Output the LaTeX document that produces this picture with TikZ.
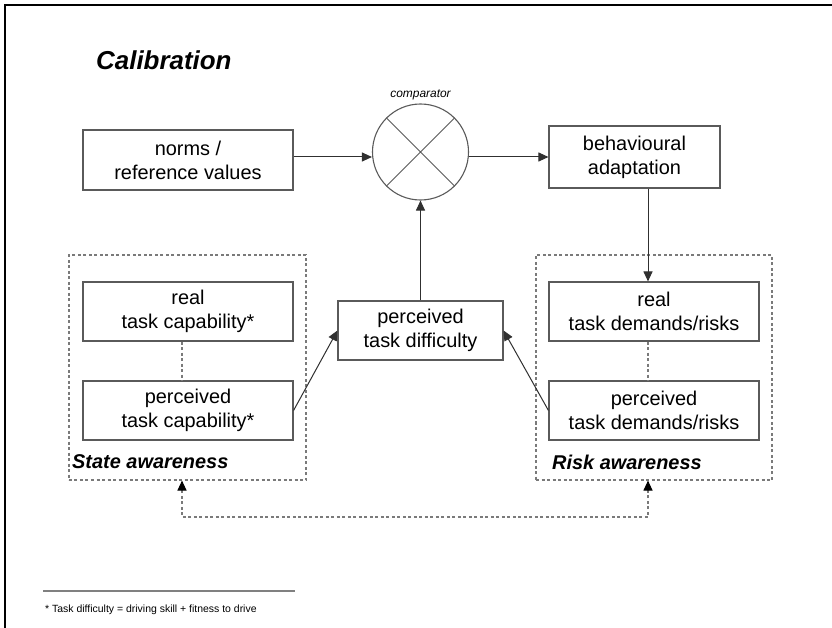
\documentclass[tikz,border=0pt]{standalone}
\usepackage{fontspec}
\setmainfont{Liberation Sans}
\usetikzlibrary{arrows.meta,calc}
\definecolor{boxgray}{HTML}{5A5A5A}
\definecolor{linegray}{HTML}{303030}
\definecolor{dashgray}{HTML}{7A7A7A}
\begin{document}
\begin{tikzpicture}[x=1bp,y=-1bp,
  box/.style={draw=boxgray, line width=1.1bp, fill=white, inner sep=0pt, align=center, font=\fontsize{20}{24}\selectfont},
  arr/.style={draw=linegray, line width=1bp, -{Triangle[length=10bp,width=9bp]}},
  cont/.style={draw=dashgray, line width=1.1bp, dash pattern=on 3bp off 2.5bp, inner sep=0pt},
  dline/.style={draw=dashgray, line width=1.1bp, dash pattern=on 3bp off 2.5bp},
  tip/.style={Triangle[length=10bp,width=9bp,black]},
  lbl/.style={font=\fontsize{20}{24}\selectfont\bfseries\itshape, anchor=west, inner sep=0pt}]
\useasboundingbox (0,0) rectangle (832,628);
\draw[line width=2.5bp, line join=miter] (5,628) -- (5,5) -- (832,5);

\node[font=\fontsize{26}{30}\selectfont\bfseries\itshape, anchor=base west, inner sep=0pt] (title) at (96,70) {Calibration};

\node[circle, draw=boxgray, line width=1.1bp, minimum size=96bp, inner sep=0pt] (comp) at (420.5,152) {};
\draw[boxgray, line width=1bp] (comp.north west) -- (comp.south east) (comp.north east) -- (comp.south west);
\node[font=\fontsize{12}{14}\selectfont\itshape, anchor=base, inner sep=0pt] (complbl) at (420.5,98) {comparator};

\node[box, minimum width=210bp, minimum height=60bp] (norms) at (188,160) {norms /\\reference values};
\node[box, minimum width=171bp, minimum height=62bp] (behav) at (634.5,157) {behavioural\\adaptation};

\node[cont, minimum width=237bp, minimum height=225bp] (lcont) at (187.5,367.5) {};
\node[cont, minimum width=236bp, minimum height=225bp] (rcont) at (654,367.5) {};

\node[box, minimum width=210bp, minimum height=59bp] (rcap) at (188,311.5) {real\\task capability*};
\node[box, minimum width=210bp, minimum height=59bp] (pcap) at (188,410.5) {perceived\\task capability*};
\node[box, minimum width=210bp, minimum height=59bp] (rdem) at (654,311.5) {real\\task demands/risks};
\node[box, minimum width=210bp, minimum height=59bp] (pdem) at (654,410.5) {perceived\\task demands/risks};
\node[box, minimum width=165bp, minimum height=59bp] (ptd) at (420.5,330.5) {perceived\\task difficulty};

\node[lbl] (sa) at (72,462) {State awareness};
\node[lbl] (ra) at (552,462) {Risk awareness};

\coordinate (xl) at (182,517);
\coordinate (xr) at (648,517);
\coordinate (yarr) at (0,157);

\draw[arr] (norms.east |- yarr) -- (comp.west |- yarr);
\draw[arr] (comp.east |- yarr) -- (behav.west |- yarr);
\draw[arr] (behav.south -| xr) -- (rdem.north -| xr);
\draw[arr] (ptd.north) -- (comp.south);
\draw[arr] (pcap.east) -- (ptd.west);
\draw[arr] (pdem.west) -- (ptd.east);

\draw[dline] (rcap.south -| xl) -- (pcap.north -| xl);
\draw[dline] (rdem.south -| xr) -- (pdem.north -| xr);
\draw[dline, {Triangle[length=10bp,width=9bp,black]}-{Triangle[length=10bp,width=9bp,black]}] (lcont.south -| xl) -- (xl) -- (xr) -- (rcont.south -| xr);

\draw[draw=gray, line width=1.5bp] (43,591) -- (295,591);
\node[font=\fontsize{10.5}{12}\selectfont, anchor=base west, inner sep=0pt] (fn) at (45,612) {* Task difficulty = driving skill + fitness to drive};
\end{tikzpicture}
\end{document}
